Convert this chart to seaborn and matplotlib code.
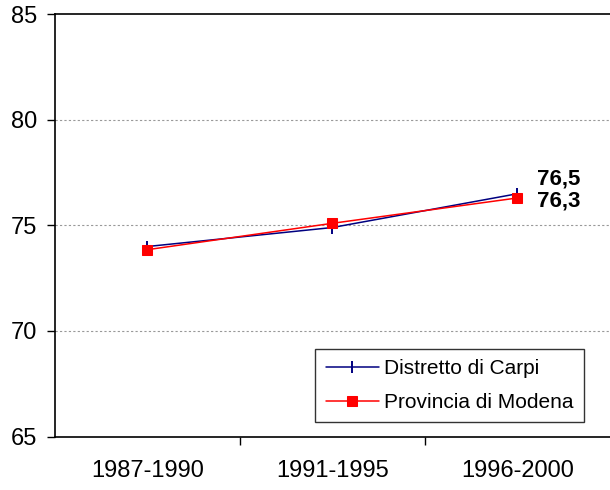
import matplotlib
matplotlib.use("Agg")
import matplotlib.pyplot as plt
import seaborn as sns
import pandas as pd

periods = ["1987-1990", "1991-1995", "1996-2000"]
carpi = [74.0, 74.9, 76.5]
modena = [73.85, 75.1, 76.3]
series_names = ["Distretto di Carpi", "Provincia di Modena"]
end_labels = ["76,5", "76,3"]

sns.set_style("white")
plt.rcParams['font.family'] = ['Liberation Sans', 'DejaVu Sans']
plt.rcParams['text.color'] = 'black'
plt.rcParams['xtick.color'] = 'black'
plt.rcParams['ytick.color'] = 'black'

xpos = list(range(len(periods)))
df_c = pd.DataFrame({"x": xpos, "value": carpi})
df_m = pd.DataFrame({"x": xpos, "value": modena})

fig = plt.figure(figsize=(6.1, 4.9), dpi=100)
ax = fig.add_axes([0.09, 0.109, 0.91, 0.862])

sns.lineplot(data=df_c, x="x", y="value", color="#000080", marker="|",
             markersize=9, markeredgewidth=1.4, markeredgecolor="#000080",
             linewidth=1.1, ax=ax, label=series_names[0])
sns.lineplot(data=df_m, x="x", y="value", color="#FF0000", marker="s",
             markersize=7, markeredgecolor="#FF0000", linewidth=1.1, ax=ax,
             label=series_names[1])

ax.set_xlim(-0.5, 2.5)
ax.set_ylim(65, 85)
ax.set_yticks([65, 70, 75, 80, 85])
ax.set_xticks([0, 1, 2])
ax.set_xticklabels(periods, fontsize=17)
ax.tick_params(axis='x', length=0, pad=17)
ax.set_xticks([0.5, 1.5], minor=True)
ax.tick_params(axis='x', which='minor', length=6, width=1, direction='out', color='black', bottom=True)
ax.tick_params(axis='y', labelsize=17, length=6, width=1, direction='out', color='black', left=True, pad=7)
ax.set_xlabel("")
ax.set_ylabel("")

for y in [70, 75, 80]:
    ax.axhline(y, color="#999999", linestyle=(0, (2, 2)), linewidth=0.8, zorder=0)

for s in ["left", "bottom", "top"]:
    ax.spines[s].set_visible(True)
    ax.spines[s].set_color("black")
    ax.spines[s].set_linewidth(1.2)
ax.spines["right"].set_visible(False)

ax.annotate(end_labels[0], xy=(2, carpi[2]), xytext=(14, 10.5), textcoords="offset points",
            fontsize=16, fontweight="bold", va="center", ha="left")
ax.annotate(end_labels[1], xy=(2, modena[2]), xytext=(14, -2.5), textcoords="offset points",
            fontsize=16, fontweight="bold", va="center", ha="left")

leg = ax.legend(loc="lower right", bbox_to_anchor=(0.953, 0.034), borderaxespad=0,
                frameon=True, fancybox=False, edgecolor="black", fontsize=15,
                handlelength=2.55, borderpad=0.5, labelspacing=0.7, handletextpad=0.25)
leg.get_frame().set_linewidth(1.0)

fig.savefig("out.png", dpi=100)
